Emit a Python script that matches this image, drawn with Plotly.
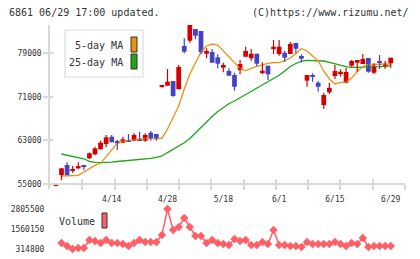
import plotly.graph_objects as go

W, H = 420, 259

dates = ["3/31",
         "4/1", "4/2", "4/3", "4/6", "4/7", "4/8", "4/9", "4/10", "4/13", "4/14",
         "4/15", "4/16", "4/17", "4/20", "4/21", "4/22", "4/23", "4/24", "4/27", "4/28",
         "4/30", "5/1", "5/7", "5/8", "5/11", "5/12", "5/13", "5/14", "5/15", "5/18",
         "5/19", "5/20", "5/21", "5/22", "5/25", "5/26", "5/27", "5/28", "5/29", "6/1",
         "6/2", "6/3", "6/4", "6/5", "6/8", "6/9", "6/10", "6/11", "6/12", "6/15",
         "6/16", "6/17", "6/18", "6/19", "6/22", "6/23", "6/24", "6/25", "6/26", "6/29"]

opens = [54700, 56650, 58490, 57390, 57880, 58490, 59720, 60450, 61370, 62340, 63680,
         62890, 62580, 63080, 62950, 63210, 62950, 64420, 64180, 72990, 73050,
         73910, 72390, 80340, 81310, 83460, 83090, 78920, 79240, 78260, 76350,
         75750, 75010, 75930, 78370, 78080, 78920, 75380, 76720, 79790, 78870,
         79110, 78870, 80890, 78500, 73970, 74960, 73600, 69500, 71840, 74830,
         75200, 73600, 76720, 77270, 77030, 78130, 75430, 77580, 76670, 77160]
closes = [54820, 57880, 56650, 57700, 58300, 58180, 60640, 61550, 62580, 63570, 62660,
          62470, 63210, 62770, 64000, 62950, 64000, 63260, 63210, 73180, 73780,
          71160, 76480, 79290, 84190, 82230, 79180, 79420, 77270, 77090, 76850,
          74880, 72860, 77030, 79420, 78920, 77090, 75800, 75140, 80210, 80210,
          78190, 80700, 79840, 78010, 75010, 74700, 72860, 71340, 72630, 75750,
          75620, 75560, 77580, 77770, 77950, 75620, 76720, 77270, 77090, 78190]
highs = [54820, 57880, 58980, 58300, 58980, 58490, 60800, 61850, 62950, 64000, 64000,
         63080, 63680, 64180, 64310, 64600, 64310, 64730, 64180, 73180, 76110,
         73910, 76850, 81750, 84190, 83460, 83090, 79920, 79790, 78810, 77270,
         76240, 75430, 77770, 80210, 79790, 78920, 77340, 76720, 81440, 81440,
         79420, 81070, 80890, 78810, 75010, 75320, 73910, 71760, 73600, 76850,
         76060, 76350, 77770, 77770, 78870, 78130, 77160, 78680, 77580, 78190]
lows = [54700, 55730, 56650, 57070, 57700, 57570, 59600, 60300, 61370, 61740, 62660,
        61240, 62580, 62770, 62950, 62950, 62770, 62950, 62950, 72680, 73050,
        71030, 72390, 79000, 80940, 81570, 78810, 78080, 77270, 76240, 75510,
        74880, 72130, 75140, 78370, 77640, 76670, 75140, 74090, 78870, 78560,
        77450, 78870, 79000, 77340, 72860, 73780, 71950, 68830, 71520, 74280,
        74700, 73600, 76540, 75620, 77030, 75430, 75200, 76110, 76110, 76350]

ma5 = [None,
       56470, 56470, 56470, 56600, 57200, 57880, 58430, 58800, 59960, 61240,
       62470, 62890, 63020, 63130, 63210, 63350, 63390, 63390, 63390, 65100,
       67300, 69320, 72440, 75200, 77220, 79240, 80340, 80700, 80520, 79420,
       78260, 77220, 76210, 75840, 76300, 76610, 76850, 77160, 77310, 77270,
       77670, 78130, 78920, 79880, 79420, 78500, 77580, 75750, 74280, 73360,
       73620, 73730, 74460, 75660, 76570, 76940, 76990, 77030, 77030, 77030]
ma25 = [None,
        60510, 60320, 60070, 59870, 59630, 59170, 58970, 58910, 58910, 59020,
        59130, 59220, 59310, 59410, 59500, 59520, 59700, 59900, 60140, 60770,
        61320, 61890, 62560, 63350, 64360, 65470, 66570, 67390, 68310, 69100,
        69730, 70240, 70830, 71430, 71980, 72590, 73180, 73730, 74370, 74960,
        75750, 76570, 77120, 77550, 77710, 77710, 77710, 77580, 77340, 77070,
        76810, 76570, 76430, 76430, 76430, 76430, 76480, 76540, 76610, 76670]
volume = [None,
          688300, 501500, 314800, 377100, 377100, 875200, 813000, 688300, 875200, 688300,
          688300, 626000, 501500, 688300, 875200, 750700, 750700, 750700, 1186600, 2805500,
          1497700, 1684500, 2244900, 1684500, 1124300, 1124300, 688300, 875200, 688300, 626000,
          563800, 937400, 813000, 875200, 563800, 563800, 750700, 626000, 1497700, 563800,
          563800, 501500, 501500, 439300, 750700, 626000, 626000, 626000, 626000, 750700,
          626000, 501500, 688300, 626000, 999800, 439300, 501500, 501500, 501500, 501500]

tick_dates = ["4/14", "4/28", "5/18", "6/1", "6/15", "6/29"]
price_ticks = [55000, 63000, 71000, 79000]
vol_ticks = [314800, 1560150, 2805500]

assert len(dates) == len(opens) == len(closes) == len(highs) == len(lows) == len(ma5) == len(ma25) == len(volume)

RED = "#d40000"
BLUE = "#4343c3"
ORANGE = "#f0900e"
GREEN = "#18a818"
VOLC = "#ff5f66"
AXC = "#d9d9d9"
TXT = "#333333"
FONT = "DejaVu Sans Mono"

idx = list(range(len(dates)))
up = [c >= o for o, c in zip(opens, closes)]


def px(x):
    return x / W


def py(y):
    return 1 - y / H


fig = go.Figure()

# moving averages
fig.add_trace(go.Scatter(x=idx, y=ma25, mode="lines", line=dict(color=GREEN, width=1.3),
                         xaxis="x", yaxis="y", hoverinfo="skip"))
fig.add_trace(go.Scatter(x=idx, y=ma5, mode="lines", line=dict(color=ORANGE, width=1.3),
                         xaxis="x", yaxis="y", hoverinfo="skip"))

# wicks
for flag, col in ((True, RED), (False, BLUE)):
    wx, wy = [], []
    for i in idx:
        if up[i] == flag:
            wx += [i, i, None]
            wy += [lows[i], highs[i], None]
    fig.add_trace(go.Scatter(x=wx, y=wy, mode="lines", line=dict(color=col, width=1.2),
                             xaxis="x", yaxis="y", hoverinfo="skip"))

# bodies
fig.add_trace(go.Bar(x=idx, y=[abs(c - o) for o, c in zip(opens, closes)],
                     base=[min(o, c) for o, c in zip(opens, closes)],
                     width=0.85, marker=dict(color=[RED if u else BLUE for u in up], line=dict(width=0)),
                     xaxis="x", yaxis="y", hoverinfo="skip"))

# volume
fig.add_trace(go.Scatter(x=idx, y=volume, mode="lines+markers",
                         line=dict(color=VOLC, width=1.5),
                         marker=dict(symbol="diamond", size=6.5, color=VOLC),
                         xaxis="x4", yaxis="y2", hoverinfo="skip"))

# dummy traces for tick overlay axes
fig.add_trace(go.Scatter(x=[], y=[], xaxis="x2", yaxis="y", showlegend=False))
fig.add_trace(go.Scatter(x=[], y=[], xaxis="x3", yaxis="y3", showlegend=False))

X0, X1 = 50, 405
step = 5.58
first_px = 55.92
r0 = (X0 - first_px) / step
r1 = (X1 - first_px) / step

YTOP, YBOT = 25, 189
ppx = 183.6
yr = [55000 - (YBOT - 184) * ppx, 55000 + (184 - YTOP) * ppx]

vppx = 62267
VTOP, VBOT = 204, 254
vr = [314800 - (VBOT - 249) * vppx, 2805500 + (209 - VTOP) * vppx]

tickfont = dict(family=FONT, size=8, color=TXT)

fig.update_layout(
    width=W, height=H, margin=dict(l=0, r=0, t=0, b=0),
    paper_bgcolor="white", plot_bgcolor="white", showlegend=False,
    xaxis=dict(domain=[px(X0), px(X1)], range=[r0, r1], anchor="free", position=py(184),
               showline=True, linecolor=AXC, linewidth=1.5, showgrid=False, zeroline=False,
               tickvals=[dates.index(d) for d in tick_dates], ticktext=tick_dates,
               ticks="outside", ticklen=8, tickcolor="rgba(0,0,0,0)", tickfont=tickfont),
    xaxis2=dict(overlaying="x", range=[0, 11], anchor="free", position=py(184),
                tickvals=list(range(1, 12)), ticks="outside", ticklen=5, tickwidth=1.5,
                tickcolor=AXC, showticklabels=False, showline=False, showgrid=False, zeroline=False),
    xaxis3=dict(overlaying="x", range=[0, 11], anchor="free", position=py(184),
                tickvals=list(range(1, 12)), ticks="inside", ticklen=5, tickwidth=1.5,
                tickcolor=AXC, showticklabels=False, showline=False, showgrid=False, zeroline=False),
    yaxis=dict(domain=[py(YBOT), py(YTOP)], range=yr, anchor="x",
               showline=True, linecolor=AXC, linewidth=1.5, showgrid=False, zeroline=False,
               tickvals=price_ticks, ticktext=[str(v) for v in price_ticks],
               ticks="outside", ticklen=5, tickwidth=1.5, tickcolor=AXC, tickfont=tickfont),
    yaxis3=dict(overlaying="y", range=yr, anchor="x",
                tickvals=price_ticks, ticks="inside", ticklen=3, tickwidth=1.5, tickcolor=AXC,
                showticklabels=False, showline=False, showgrid=False, zeroline=False),
    xaxis4=dict(domain=[px(X0), px(X1)], range=[r0, r1], anchor="y2", visible=False),
    yaxis2=dict(domain=[py(VBOT), py(VTOP)], range=vr, anchor="x4",
                showline=False, showgrid=False, zeroline=False,
                tickvals=vol_ticks, ticktext=[str(v) for v in vol_ticks],
                ticks="outside", ticklen=3, tickcolor="rgba(0,0,0,0)", tickfont=tickfont),
)

shapes = [
    dict(type="rect", xref="paper", yref="paper", x0=px(65), x1=px(143), y0=py(77), y1=py(30),
         line=dict(color="#dddddd", width=1.2), fillcolor="white", layer="above"),
    dict(type="rect", xref="paper", yref="paper", x0=px(131), x1=px(137), y0=py(52), y1=py(37),
         line=dict(color="#333333", width=1), fillcolor=ORANGE, layer="above"),
    dict(type="rect", xref="paper", yref="paper", x0=px(131), x1=px(137), y0=py(69), y1=py(54),
         line=dict(color="#333333", width=1), fillcolor=GREEN, layer="above"),
    dict(type="rect", xref="paper", yref="paper", x0=px(102), x1=px(107), y0=py(228), y1=py(213),
         line=dict(color="#333333", width=1), fillcolor=VOLC, layer="above"),
]
fig.update_layout(shapes=shapes)

lab = dict(family=FONT, size=10, color=TXT)
ann = [
    dict(text="6861 06/29 17:00 updated.", x=px(8), y=py(12.5), xanchor="left"),
    dict(text="(C)https://www.rizumu.net/", x=px(410), y=py(12.5), xanchor="right"),
    dict(text="5-day MA", x=px(124), y=py(45.5), xanchor="right"),
    dict(text="25-day MA", x=px(124), y=py(62.5), xanchor="right"),
    dict(text="Volume", x=px(58), y=py(221.5), xanchor="left"),
]
fig.update_layout(annotations=[dict(a, xref="paper", yref="paper", yanchor="middle",
                                    showarrow=False, font=lab, borderpad=0) for a in ann])

fig.write_html("out.html")
